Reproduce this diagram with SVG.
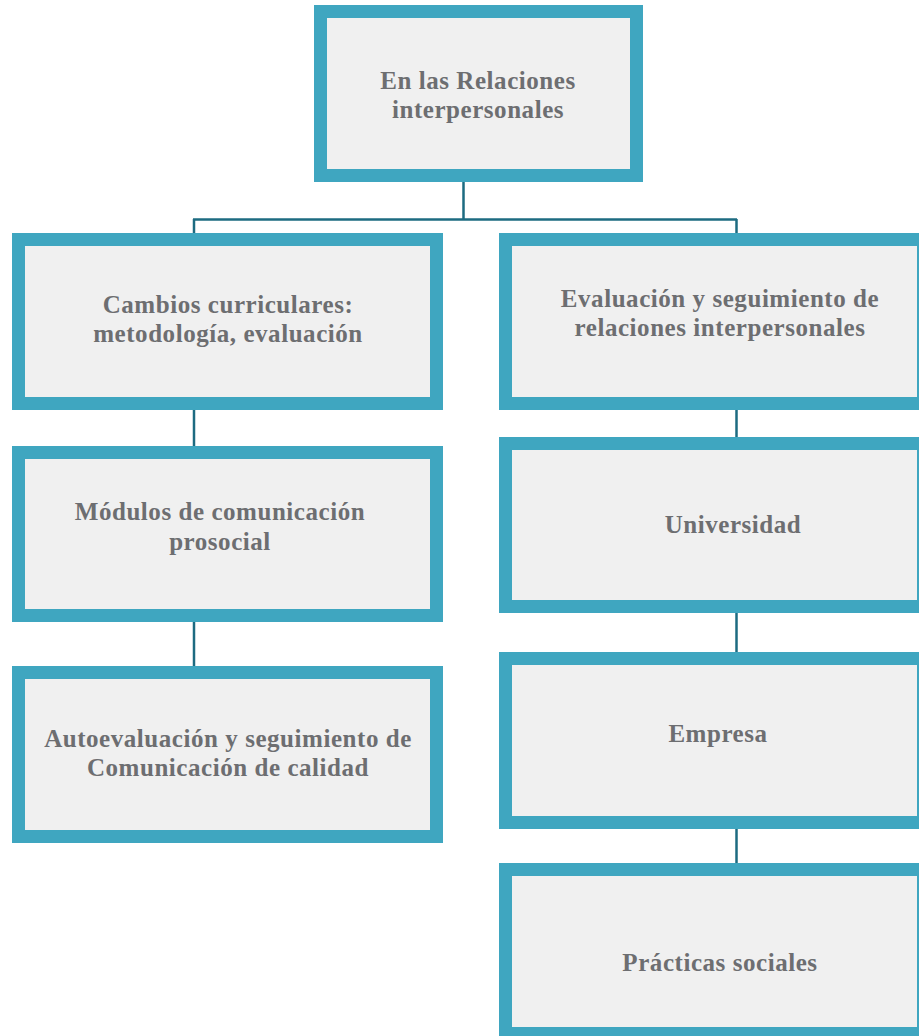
<svg xmlns="http://www.w3.org/2000/svg" width="919" height="1036" viewBox="0 0 919 1036">
<style>
.box{fill:#f0f0f0;stroke:#3fa6c0;stroke-width:13}
.t{font-family:"Liberation Serif","Times New Roman",serif;font-weight:bold;font-size:25px;letter-spacing:0.55px;fill:#6d6e71;text-anchor:middle}
.c{fill:none;stroke:#1d6b81;stroke-width:2.5}
</style>
<rect width="919" height="1036" fill="#ffffff"/>
<g id="connectors">
<line class="c" x1="463.5" y1="182" x2="463.5" y2="220"/>
<line class="c" x1="193" y1="219.5" x2="737" y2="219.5"/>
<line class="c" x1="194" y1="219" x2="194" y2="234"/>
<line class="c" x1="736.5" y1="219" x2="736.5" y2="234"/>
<line class="c" x1="194" y1="409" x2="194" y2="447"/>
<line class="c" x1="194" y1="622" x2="194" y2="667"/>
<line class="c" x1="736.5" y1="409" x2="736.5" y2="438"/>
<line class="c" x1="736.5" y1="613" x2="736.5" y2="653"/>
<line class="c" x1="736.5" y1="828" x2="736.5" y2="864"/>
</g>
<g id="n-root">
<rect class="box" x="320.5" y="11.5" width="316" height="164"/>
<text class="t" x="478" y="89">En las Relaciones</text>
<text class="t" x="478" y="118">interpersonales</text>
</g>
<g id="n-cambios">
<rect class="box" x="18.5" y="239.5" width="418" height="164"/>
<text class="t" x="228" y="313">Cambios curriculares:</text>
<text class="t" x="228" y="342">metodología, evaluación</text>
</g>
<g id="n-modulos">
<rect class="box" x="18.5" y="452.5" width="418" height="163"/>
<text class="t" x="220" y="520">Módulos de comunicación</text>
<text class="t" x="220" y="550">prosocial</text>
</g>
<g id="n-auto">
<rect class="box" x="18.5" y="672.5" width="418" height="164"/>
<text class="t" x="228" y="747">Autoevaluación y seguimiento de</text>
<text class="t" x="228" y="776">Comunicación de calidad</text>
</g>
<g id="n-evaluacion">
<rect class="box" x="505.5" y="239.5" width="418" height="164"/>
<text class="t" x="720" y="307">Evaluación y seguimiento de</text>
<text class="t" x="720" y="336">relaciones interpersonales</text>
</g>
<g id="n-universidad">
<rect class="box" x="505.5" y="443.5" width="418" height="163"/>
<text class="t" x="733" y="533">Universidad</text>
</g>
<g id="n-empresa">
<rect class="box" x="505.5" y="658.5" width="418" height="164"/>
<text class="t" x="718" y="742">Empresa</text>
</g>
<g id="n-practicas">
<rect class="box" x="505.5" y="869.5" width="418" height="164"/>
<text class="t" x="720" y="971">Prácticas sociales</text>
</g>
</svg>
